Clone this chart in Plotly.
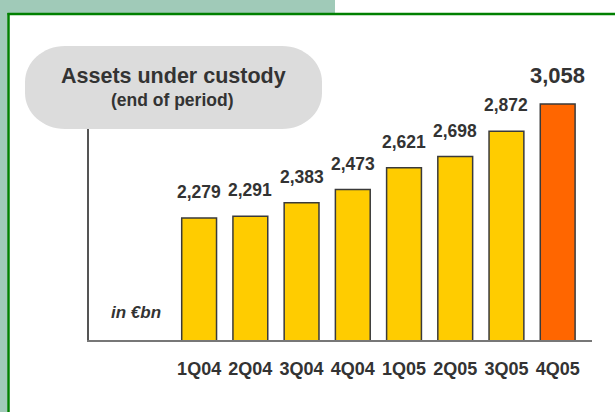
import plotly.graph_objects as go

# Assets under custody, end of period, in EUR bn
quarters = ["1Q04", "2Q04", "3Q04", "4Q04", "1Q05", "2Q05", "3Q05", "4Q05"]
assets_bn = [2279, 2291, 2383, 2473, 2621, 2698, 2872, 3058]
bar_colors = ["#FFCC00"] * 7 + ["#FF6600"]
label_sizes = [17.5] * 7 + [22]

W, H = 615, 412
L, R, T, B = 89, 23, 60, 72
PW, PH = W - L - R, H - T - B


def px(x):
    return (x - L) / PW


def py(y):
    return (H - B - y) / PH


def rounded_path(x0, y0, x1, y1, rx, ry):
    k = 0.5523
    pts = [
        f"M{px(x0 + rx)},{py(y0)}",
        f"L{px(x1 - rx)},{py(y0)}",
        f"C{px(x1 - rx + rx * k)},{py(y0)} {px(x1)},{py(y0 + ry - ry * k)} {px(x1)},{py(y0 + ry)}",
        f"L{px(x1)},{py(y1 - ry)}",
        f"C{px(x1)},{py(y1 - ry + ry * k)} {px(x1 - rx + rx * k)},{py(y1)} {px(x1 - rx)},{py(y1)}",
        f"L{px(x0 + rx)},{py(y1)}",
        f"C{px(x0 + rx - rx * k)},{py(y1)} {px(x0)},{py(y1 - ry + ry * k)} {px(x0)},{py(y1 - ry)}",
        f"L{px(x0)},{py(y0 + ry)}",
        f"C{px(x0)},{py(y0 + ry - ry * k)} {px(x0 + rx - rx * k)},{py(y0)} {px(x0 + rx)},{py(y0)}",
        "Z",
    ]
    return " ".join(pts)


SANS = "Liberation Sans, Arial, sans-serif"

fig = go.Figure()
fig.add_trace(go.Bar(
    x=quarters,
    y=assets_bn,
    width=0.68,
    marker=dict(color=bar_colors, line=dict(color="#3a3a3a", width=1.5)),
    hoverinfo="skip",
))

annotations = []
for q, v, s in zip(quarters, assets_bn, label_sizes):
    annotations.append(dict(
        x=q, y=v, xref="x", yref="y", text=f"{v:,}", showarrow=False,
        yanchor="bottom", yshift=14,
        font=dict(family=SANS, size=s, color="#333333", weight="bold"),
    ))

annotations += [
    dict(x=px(173), y=py(76), xref="paper", yref="paper", text="Assets under custody",
         showarrow=False, xanchor="center", yanchor="middle",
         font=dict(family=SANS, size=21.5, color="#333333", weight="bold")),
    dict(x=px(172), y=py(100), xref="paper", yref="paper", text="(end of period)",
         showarrow=False, xanchor="center", yanchor="middle",
         font=dict(family=SANS, size=17.5, color="#333333", weight="bold")),
    dict(x=px(136), y=py(312), xref="paper", yref="paper", text="in €bn",
         showarrow=False, xanchor="center", yanchor="middle",
         font=dict(family=SANS, size=17, color="#333333", weight="bold", style="italic")),
]

shapes = [
    # light green frame band
    dict(type="rect", xref="paper", yref="paper", x0=px(0), x1=px(335), y0=py(0), y1=py(14),
         fillcolor="#A0CAB8", line=dict(width=0), layer="below"),
    dict(type="rect", xref="paper", yref="paper", x0=px(0), x1=px(7.5), y0=py(0), y1=py(H),
         fillcolor="#A0CAB8", line=dict(width=0), layer="below"),
    # green border
    dict(type="line", xref="paper", yref="paper", x0=px(7.5), x1=px(W), y0=py(14), y1=py(14),
         line=dict(color="#008000", width=2.5), layer="above"),
    dict(type="line", xref="paper", yref="paper", x0=px(8.5), x1=px(8.5), y0=py(13), y1=py(H),
         line=dict(color="#008000", width=2.5), layer="above"),
    # title pill
    dict(type="path", xref="paper", yref="paper", path=rounded_path(25, 46, 322, 129, 40, 36),
         fillcolor="#DCDCDC", line=dict(width=0), layer="above"),
]

fig.update_layout(
    width=W, height=H,
    margin=dict(l=L, r=R, t=T, b=B, pad=0),
    paper_bgcolor="white", plot_bgcolor="white",
    showlegend=False,
    annotations=annotations,
    shapes=shapes,
    xaxis=dict(
        type="category", range=[-2.15, 7.67], showgrid=False, zeroline=False,
        showline=True, linecolor="#777777", linewidth=2, ticks="",
        tickangle=0,
        tickfont=dict(family=SANS, size=18, color="#333333", weight="bold"),
        ticklabelstandoff=11,
    ),
    yaxis=dict(
        range=[1445, 3358], showgrid=False, zeroline=False, showticklabels=False,
        showline=True, linecolor="#555555", linewidth=1.5, ticks="",
    ),
)

fig.write_html("out.html")
